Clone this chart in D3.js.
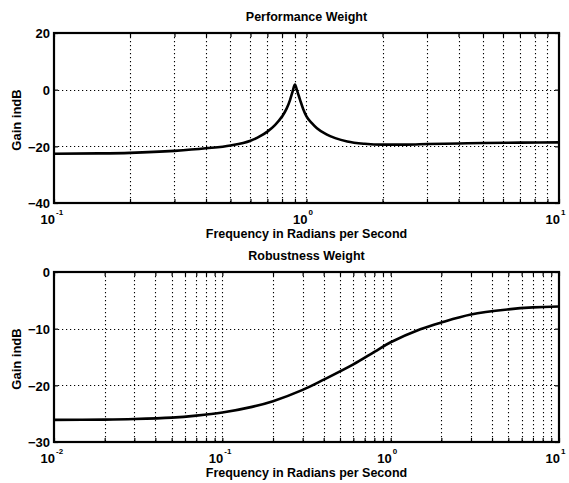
<!DOCTYPE html>
<html><head><meta charset="utf-8">
<script src="https://cdn.jsdelivr.net/npm/d3@7"></script>
<style>
  body { margin: 0; background: #fff; }
  svg { display: block; font-family: "Liberation Sans", Arial, Helvetica, sans-serif; font-weight: bold; }
</style></head>
<body>
<svg id="chart" width="569" height="483"></svg>
<script>
// Performance weight magnitude (rad/s, dB)
const perfFreq = [0.1, 0.15, 0.2, 0.3, 0.4, 0.5, 0.6, 0.65, 0.7, 0.75, 0.8, 0.835, 0.861, 0.88, 0.9, 0.92, 0.943, 0.97, 1.0, 1.05, 1.1, 1.2, 1.3, 1.45, 1.7, 2.0, 2.5, 3.0, 4.0, 5.0, 7.0, 10.0];
const perfGain = [-22.6, -22.5, -22.3, -21.6, -20.7, -19.7, -18.0, -16.6, -14.8, -12.5, -9.5, -6.6, -3.6, -0.8, 1.8, -0.6, -3.6, -6.8, -9.4, -11.8, -13.6, -15.8, -17.1, -18.3, -19.1, -19.4, -19.4, -19.2, -19.0, -18.8, -18.7, -18.6];

// Robustness weight magnitude (rad/s, dB)
const robFreq = [0.01, 0.02, 0.03, 0.05, 0.07, 0.1, 0.15, 0.2, 0.3, 0.4, 0.6, 0.8, 1.0, 1.5, 2.0, 3.0, 5.0, 7.0, 10.0];
const robGain = [-26.1, -26.05, -25.95, -25.7, -25.35, -24.8, -23.8, -22.8, -20.8, -19.0, -16.3, -14.1, -12.4, -10.1, -8.9, -7.5, -6.6, -6.25, -6.1];

// Axis ticks
const perfYTicks = [20, 0, -20, -40];
const robYTicks = [0, -10, -20, -30];
const perfDecades = [0.1, 1, 10];
const robDecades = [0.01, 0.1, 1, 10];

const titles = ["Performance Weight", "Robustness Weight"];
const xLabel = "Frequency in Radians per Second";
const yLabel = "Gain indB";

const svg = d3.select("#chart");

function drawPanel(cfg) {
  const { left, right, top, bottom, decades, yTicks, freq, gain, title, id, curve } = cfg;
  const x = d3.scaleLog().domain([decades[0], decades[decades.length - 1]]).range([left, right]);
  const y = d3.scaleLinear().domain([yTicks[yTicks.length - 1], yTicks[0]]).range([bottom, top]);
  const g = svg.append("g");

  const allX = x.ticks();

  // dotted grid
  const grid = g.append("g").attr("stroke", "#000").attr("stroke-width", 1.1)
    .attr("stroke-dasharray", "1.2,2.8").attr("fill", "none");
  grid.selectAll("line.v").data(allX.filter(v => v > x.domain()[0] && v < x.domain()[1]))
    .join("line").attr("class", "v")
    .attr("x1", d => Math.round(x(d)) + 0.5).attr("x2", d => Math.round(x(d)) + 0.5)
    .attr("y1", top).attr("y2", bottom);
  grid.selectAll("line.h").data(yTicks.slice(1, -1))
    .join("line").attr("class", "h")
    .attr("y1", d => Math.round(y(d)) + 0.5).attr("y2", d => Math.round(y(d)) + 0.5)
    .attr("x1", left).attr("x2", right);

  // inward ticks on all four sides
  const styleAxis = sel => {
    sel.select(".domain").remove();
    sel.selectAll("line").attr("stroke", "#000").attr("stroke-width", 1.2);
    sel.attr("font-family", null).attr("font-size", null);
  };
  const xb = g.append("g").attr("transform", `translate(0,${bottom})`)
    .call(d3.axisBottom(x).tickValues(allX).tickSizeInner(-4).tickSizeOuter(0).tickFormat(() => ""));
  styleAxis(xb);
  const xt = g.append("g").attr("transform", `translate(0,${top})`)
    .call(d3.axisTop(x).tickValues(allX).tickSizeInner(-4).tickSizeOuter(0).tickFormat(() => ""));
  styleAxis(xt);
  const yr = g.append("g").attr("transform", `translate(${right},0)`)
    .call(d3.axisRight(y).tickValues(yTicks).tickSizeInner(-4).tickSizeOuter(0).tickFormat(() => ""));
  styleAxis(yr);
  const yl = g.append("g").attr("transform", `translate(${left},0)`)
    .call(d3.axisLeft(y).tickValues(yTicks).tickSizeInner(-4).tickSizeOuter(0).tickPadding(4)
      .tickFormat(d => d < 0 ? "\u2212" + Math.abs(d) : String(d)));
  styleAxis(yl);
  yl.selectAll("text").attr("font-size", 13).attr("fill", "#000").attr("dy", "0.36em");

  // decade labels 10^k
  xb.selectAll(".tick").filter(d => decades.includes(d)).each(function(d) {
    const t = d3.select(this);
    t.select("text").remove();
    const k = Math.round(Math.log10(d));
    t.append("text").attr("x", 0.5).attr("y", 20.5).attr("text-anchor", "end")
      .attr("font-size", 13).attr("fill", "#000").text("10");
    t.append("text").attr("x", 1.5).attr("y", 11.5).attr("text-anchor", "start")
      .attr("font-size", 8).attr("fill", "#000").text(String(k));
  });

  // curve
  const data = freq.map((f, i) => ({ f, v: gain[i] }));
  g.append("clipPath").attr("id", id).append("rect")
    .attr("x", left).attr("y", top).attr("width", right - left).attr("height", bottom - top);
  g.append("path").datum(data)
    .attr("clip-path", `url(#${id})`)
    .attr("fill", "none").attr("stroke", "#000").attr("stroke-width", 2.6)
    .attr("stroke-linejoin", "round")
    .attr("d", d3.line().x(d => x(d.f)).y(d => y(d.v)).curve(curve));

  // frame
  g.append("rect").attr("x", left).attr("y", top).attr("width", right - left).attr("height", bottom - top)
    .attr("fill", "none").attr("stroke", "#000").attr("stroke-width", 2.2);

  // labels
  const cx = (left + right) / 2;
  g.append("text").attr("x", cx).attr("y", top - 12.5).attr("text-anchor", "middle")
    .attr("font-size", 12.5).text(title);
  g.append("text").attr("x", cx).attr("y", bottom + 35).attr("text-anchor", "middle")
    .attr("font-size", 12.5).text(xLabel);
  g.append("text").attr("transform", `translate(20.5,${(top + bottom) / 2 + 2}) rotate(-90)`)
    .attr("text-anchor", "middle").attr("font-size", 13).text(yLabel);
}

drawPanel({ id: "clipPerf", left: 54, right: 559, top: 33, bottom: 203, curve: d3.curveMonotoneX,
  decades: perfDecades, yTicks: perfYTicks, freq: perfFreq, gain: perfGain, title: titles[0] });
drawPanel({ id: "clipRob", left: 54, right: 559, top: 272, bottom: 442, curve: d3.curveCatmullRom.alpha(0.5),
  decades: robDecades, yTicks: robYTicks, freq: robFreq, gain: robGain, title: titles[1] });
</script>
</body></html>
